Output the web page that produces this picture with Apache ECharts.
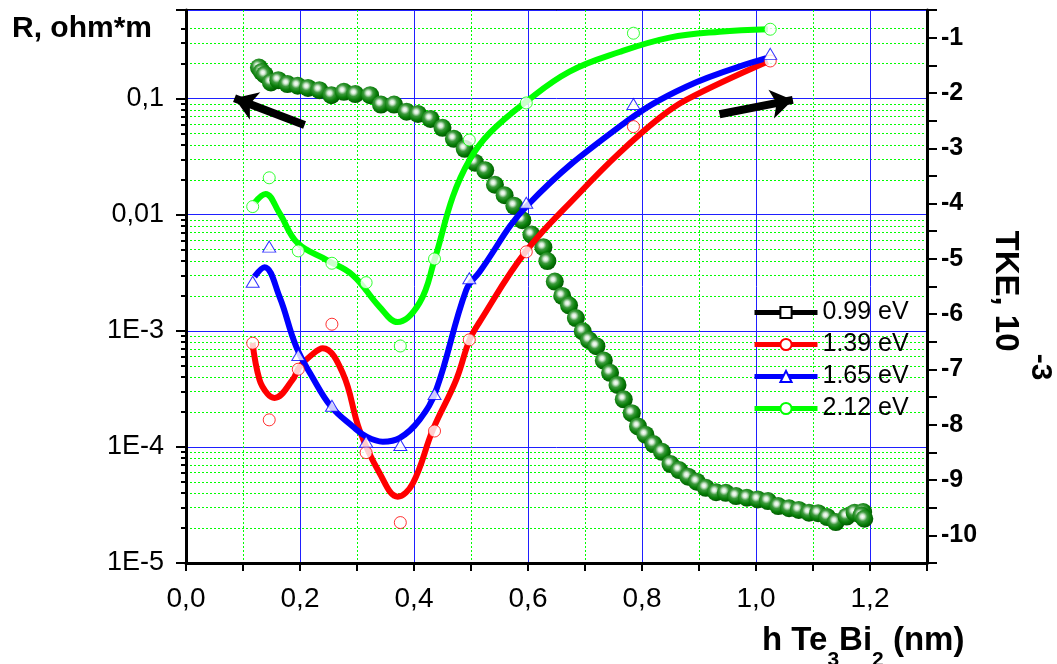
<!DOCTYPE html>
<html>
<head>
<meta charset="utf-8">
<script src="https://cdn.jsdelivr.net/npm/echarts@6/dist/echarts.min.js"></script>
<style>html,body{margin:0;padding:0;background:#fff}#c{width:1057px;height:664px}</style>
</head>
<body>
<div id="c"></div>
<script>
// ---------- data ----------
const ptsX = [0.117, 0.146, 0.197, 0.256, 0.316, 0.376, 0.436, 0.497, 0.597, 0.785, 1.025];
const pts139 = [7.82e-4, 1.71e-4, 4.67e-4, 1.14e-3, 8.93e-5, 2.23e-5, 1.37e-4, 8.36e-4, 4.79e-3, 0.0574, 0.211];
const pts165 = [2.65e-3, 5.31e-3, 6.19e-4, 2.26e-4, 1.11e-4, 1.04e-4, 2.86e-4, 2.84e-3, 0.0127, 0.090, 0.243];
const pts212 = [0.01175, 0.0208, 0.00488, 0.00382, 0.0026, 0.00074, 0.00416, 0.044, 0.0918, 0.366, 0.396];

const curve139X = [0.1167, 0.129, 0.143, 0.1553, 0.1868, 0.1991, 0.2202, 0.24, 0.2751, 0.3044, 0.3395, 0.3716, 0.3979, 0.433, 0.474, 0.4974, 0.5149, 0.5956, 0.6904, 0.7605, 0.8307, 0.8775, 1.0207];
const curve139Y = [7.87e-4, 3.78e-4, 2.86e-4, 2.64e-4, 3.78e-4, 4.89e-4, 6.19e-4, 7.08e-4, 4.31e-4, 1.40e-4, 5.97e-5, 3.73e-5, 4.86e-5, 1.40e-4, 3.78e-4, 8.36e-4, 1.19e-3, 4.79e-3, 0.0154, 0.0341, 0.0682, 0.0975, 0.2084];

const curve165X = [0.1202, 0.1377, 0.164, 0.1933, 0.2225, 0.2547, 0.2926, 0.3161, 0.3453, 0.3746, 0.4096, 0.439, 0.4916, 0.5149, 0.5996, 0.7605, 0.8775, 1.018];
const curve165Y = [2.93e-3, 3.53e-3, 1.97e-3, 7.31e-4, 3.93e-4, 2.22e-4, 1.50e-4, 1.23e-4, 1.11e-4, 1.19e-4, 1.71e-4, 3.10e-4, 2.25e-3, 3.21e-3, 0.01213, 0.0574, 0.1268, 0.2228];

const curve212X = [0.1202, 0.1395, 0.164, 0.1956, 0.2465, 0.2921, 0.3395, 0.3711, 0.4096, 0.436, 0.4681, 0.4974, 0.5325, 0.5968, 0.6728, 0.7605, 0.8482, 0.936, 1.0207];
const curve212Y = [0.01265, 0.0151, 0.0103, 0.00571, 0.00408, 0.00303, 0.00161, 0.00119, 0.00174, 0.00408, 0.01432, 0.02965, 0.0504, 0.0942, 0.171, 0.252, 0.335, 0.377, 0.396];

const tkeX = [0.128, 0.133, 0.138, 0.149, 0.162, 0.178, 0.196, 0.214, 0.234, 0.255, 0.277, 0.297, 0.323, 0.342, 0.365, 0.387, 0.407, 0.429, 0.450, 0.470, 0.489, 0.507, 0.525, 0.542, 0.559, 0.576, 0.590, 0.606, 0.627, 0.634, 0.647, 0.660, 0.672, 0.684, 0.696, 0.707, 0.720, 0.733, 0.744, 0.757, 0.768, 0.782, 0.793, 0.806, 0.820, 0.835, 0.850, 0.865, 0.881, 0.896, 0.912, 0.930, 0.947, 0.965, 0.984, 1.003, 1.021, 1.039, 1.058, 1.075, 1.093, 1.109, 1.125, 1.140, 1.159, 1.173, 1.188, 1.185, 1.190];
const tkeY = [-1.54, -1.62, -1.67, -1.81, -1.77, -1.84, -1.87, -1.91, -1.95, -2.04, -1.98, -2.02, -2.04, -2.21, -2.21, -2.34, -2.38, -2.47, -2.63, -2.83, -3.01, -3.26, -3.40, -3.66, -3.85, -4.04, -4.30, -4.56, -4.79, -5.04, -5.41, -5.67, -5.84, -6.07, -6.31, -6.47, -6.58, -6.84, -7.06, -7.28, -7.54, -7.79, -8.03, -8.18, -8.35, -8.49, -8.71, -8.82, -8.94, -9.03, -9.14, -9.22, -9.23, -9.29, -9.32, -9.35, -9.38, -9.47, -9.51, -9.54, -9.59, -9.60, -9.67, -9.76, -9.66, -9.59, -9.58, -9.64, -9.70];

const seriesNames = ['0.99 eV', '1.39 eV', '1.65 eV', '2.12 eV'];
const xTickVals = [0, 0.2, 0.4, 0.6, 0.8, 1.0, 1.2];
const xTickLabels = ['0,0', '0,2', '0,4', '0,6', '0,8', '1,0', '1,2'];
const xMinorVals = [0.1, 0.3, 0.5, 0.7, 0.9, 1.1];
const rTickVals = [1e-5, 1e-4, 1e-3, 1e-2, 1e-1];
const rTickLabels = ['1E-5', '1E-4', '1E-3', '0,01', '0,1'];
const rMinorMultipliers = [2, 3, 4, 5, 6, 7, 8, 9];
const arrowLeft = [[0.208, 0.0594], [0.0851, 0.1008]];
const arrowRight = [[0.936, 0.0734], [1.0646, 0.0975]];

// ---------- helpers ----------
const FONT = '"Liberation Sans", Arial, sans-serif';
const zip = (xs, ys) => xs.map((x, i) => [x, ys[i]]);
const rMinorVals = [];
rTickVals.forEach(d => rMinorMultipliers.forEach(k => rMinorVals.push(+(k * d).toPrecision(3))));
const rMinorShown = rMinorVals.filter(v => v <= 0.4);
const sameVal = (a, b) => Math.abs(Math.log10(a / b)) < 1e-6;

const BLUE = '#1f1fff';
const GREEN_DOT = { color: '#00ff00', type: [2, 2], width: 1 };
const ball = {
  type: 'radial', x: 0.4, y: 0.38, r: 0.62,
  colorStops: [
    { offset: 0, color: '#ffffff' },
    { offset: 0.18, color: '#d8ecd8' },
    { offset: 0.42, color: '#3d9a3d' },
    { offset: 0.7, color: '#0a800a' },
    { offset: 1, color: '#005a00' }
  ]
};

const chart = echarts.init(document.getElementById('c'), null, { renderer: 'canvas' });
const option = {
  animation: false,
  backgroundColor: '#fff',
  grid: { left: 186, right: 130, top: 10, bottom: 101, show: true, borderColor: '#000', borderWidth: 2, backgroundColor: 'transparent' },
  legend: {
    data: seriesNames, orient: 'vertical', left: 747, top: 295,
    itemWidth: 63, itemHeight: 14, itemGap: 7,
    lineStyle: { width: 5 },
    textStyle: { fontSize: 25, fontFamily: FONT, color: '#000' }
  },
  xAxis: [{
    type: 'value', min: 0, max: 1.3, interval: 0.2, position: 'bottom',
    axisLine: { show: true, onZero: false, lineStyle: { color: '#000', width: 3 } },
    axisTick: { show: true, length: 8, lineStyle: { color: '#000', width: 2 } },
    axisLabel: {
      margin: 22, fontSize: 28, fontFamily: FONT, color: '#000',
      formatter: v => { const i = xTickVals.findIndex(t => Math.abs(t - v) < 1e-6); return i >= 0 ? xTickLabels[i] : ''; }
    },
    splitLine: { show: true, lineStyle: { color: BLUE, width: 1 } }
  }, {
    type: 'value', min: 0, max: 1.3, interval: 0.2, position: 'bottom',
    axisLine: { show: false, onZero: false },
    axisTick: { show: true, length: 8, customValues: xMinorVals, lineStyle: { color: '#000', width: 2 } },
    axisLabel: { show: false },
    splitLine: { show: true, lineStyle: GREEN_DOT }
  }],
  yAxis: [{
    type: 'log', logBase: 10, min: 1e-5, max: 0.58, position: 'left',
    axisLine: { show: true, lineStyle: { color: '#000', width: 3 } },
    axisTick: { show: true, length: 10, lineStyle: { color: '#000', width: 2 } },
    axisLabel: {
      margin: 22, fontSize: 27, fontFamily: FONT, color: '#000',
      formatter: v => { const i = rTickVals.findIndex(t => sameVal(t, v)); return i >= 0 ? rTickLabels[i] : ''; }
    },
    splitLine: { show: true, lineStyle: { color: BLUE, width: 1 } }
  }, {
    type: 'log', logBase: 10, min: 1e-5, max: 0.58, position: 'left',
    axisLine: { show: false },
    axisTick: { show: true, length: 5, customValues: rMinorShown, lineStyle: { color: '#000', width: 2 } },
    axisLabel: { show: false },
    splitLine: { show: true, lineStyle: GREEN_DOT }
  }, {
    type: 'value', min: -10.5, max: -0.5, interval: 0.5, position: 'right',
    axisLine: { show: true, lineStyle: { color: '#000', width: 3 } },
    axisTick: { show: true, length: 10, lineStyle: { color: '#000', width: 2 } },
    axisLabel: {
      margin: 14, fontSize: 25, fontWeight: 'bold', fontFamily: FONT, color: '#000',
      formatter: v => { const r = Math.round(v * 1000) / 1000; return Number.isInteger(r) ? String(r) : ''; }
    },
    splitLine: { show: false }
  }],
  graphic: [
    { type: 'text', left: 12, top: 14, style: { text: 'R, ohm*m', font: 'bold 30px ' + FONT, fill: '#000' } },
    { type: 'text', x: 1005, y: 291, rotation: -Math.PI / 2, style: { text: 'TKE, 10', font: 'bold 33px ' + FONT, fill: '#000', align: 'center', verticalAlign: 'middle' } },
    { type: 'text', x: 1040, y: 367, rotation: -Math.PI / 2, style: { text: '-3', font: 'bold 30px ' + FONT, fill: '#000', align: 'center', verticalAlign: 'middle' } },
    { type: 'text', x: 762, y: 641, style: {
      text: '{a|h Te}{s|3}{a|Bi}{s|2}{a| (nm)}', align: 'left', verticalAlign: 'middle', fill: '#000',
      rich: {
        a: { fontSize: 33, fontWeight: 'bold', fontFamily: FONT, lineHeight: 60, verticalAlign: 'middle', fill: '#000' },
        s: { fontSize: 21, fontWeight: 'bold', fontFamily: FONT, lineHeight: 22, verticalAlign: 'bottom', fill: '#000' }
      }
    } }
  ],
  series: [
    {
      name: 'TKE', type: 'scatter', xAxisIndex: 0, yAxisIndex: 2, z: 2,
      symbol: 'circle', symbolSize: 18,
      itemStyle: { color: ball, opacity: 1 },
      data: zip(tkeX, tkeY)
    },
    {
      name: '0.99 eV', type: 'line', data: [], xAxisIndex: 0, yAxisIndex: 0,
      symbol: 'emptyRect', symbolSize: 12, color: '#000',
      lineStyle: { width: 5, color: '#000' }, itemStyle: { color: '#000', borderWidth: 1 }
    },
    {
      name: '1.39 eV', type: 'line', smooth: 0.4, showSymbol: false, symbol: 'emptyCircle', symbolSize: 12, z: 3,
      xAxisIndex: 0, yAxisIndex: 0, color: '#ff0000',
      lineStyle: { width: 6, color: '#ff0000' }, itemStyle: { color: '#ff0000', borderWidth: 1 },
      data: zip(curve139X, curve139Y)
    },
    {
      name: '1.65 eV', type: 'line', smooth: 0.4, showSymbol: false, symbol: 'emptyTriangle', symbolSize: 13, z: 3,
      xAxisIndex: 0, yAxisIndex: 0, color: '#0000ff',
      lineStyle: { width: 6, color: '#0000ff' }, itemStyle: { color: '#0000ff', borderWidth: 1 },
      data: zip(curve165X, curve165Y)
    },
    {
      name: '2.12 eV', type: 'line', smooth: 0.4, showSymbol: false, symbol: 'emptyCircle', symbolSize: 12, z: 3,
      xAxisIndex: 0, yAxisIndex: 0, color: '#00ff00',
      lineStyle: { width: 6, color: '#00ff00' }, itemStyle: { color: '#00ff00', borderWidth: 1 },
      data: zip(curve212X, curve212Y)
    },
    {
      name: 'pts 1.39', type: 'scatter', xAxisIndex: 0, yAxisIndex: 0, z: 4,
      symbol: 'circle', symbolSize: 12,
      itemStyle: { color: '#fff', borderColor: '#ff0000', borderWidth: 1 },
      data: zip(ptsX, pts139)
    },
    {
      name: 'pts 1.65', type: 'scatter', xAxisIndex: 0, yAxisIndex: 0, z: 4,
      symbol: 'triangle', symbolSize: [13, 11],
      itemStyle: { color: '#fff', borderColor: '#0000ff', borderWidth: 1 },
      data: zip(ptsX, pts165)
    },
    {
      name: 'pts 2.12', type: 'scatter', xAxisIndex: 0, yAxisIndex: 0, z: 4,
      symbol: 'circle', symbolSize: 12,
      itemStyle: { color: '#fff', borderColor: '#00ff00', borderWidth: 1 },
      data: zip(ptsX, pts212)
    },
    {
      name: 'arrows', type: 'line', data: [], xAxisIndex: 0, yAxisIndex: 0, z: 10, silent: true,
      markLine: {
        silent: true, symbol: ['none', 'arrow'], symbolSize: [22, 22], label: { show: false },
        emphasis: { disabled: true },
        lineStyle: { color: '#000', width: 8, type: 'solid' },
        data: [
          [{ coord: arrowLeft[0] }, { coord: arrowLeft[1] }],
          [{ coord: arrowRight[0] }, { coord: arrowRight[1] }]
        ]
      }
    }
  ]
};
chart.setOption(option);
</script>
</body>
</html>
